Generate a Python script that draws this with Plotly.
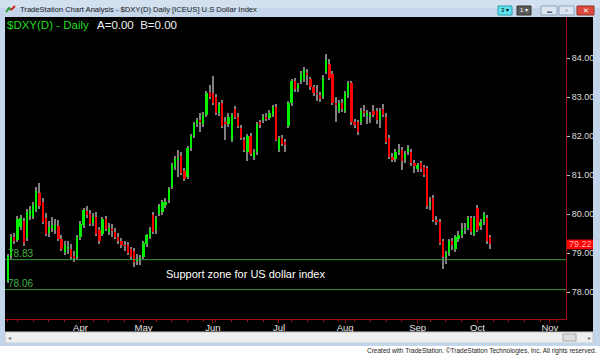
import plotly.graph_objects as go
import pandas as pd
import numpy as np

# ---------------- data ----------------
holidays = ["2012-04-06", "2012-05-28", "2012-07-04", "2012-09-03"]
all_days = [d for d in pd.bdate_range("2012-02-29", "2012-11-30")
            if d.strftime("%Y-%m-%d") not in holidays]

opens = [78.28, 78.92, 79.42, 79.33, 79.66, 79.82, 79.38, 79.95, 79.92, 80.10,
         80.55, 80.30, 79.90, 79.52, 79.64, 79.60, 79.70, 79.35, 79.02, 79.12,
         79.10, 78.93, 78.90, 79.40, 79.72, 80.08, 80.00, 79.78, 79.92, 79.60,
         79.50, 79.88, 79.55, 79.60, 79.55, 79.42, 79.30, 79.20, 79.20, 79.10,
         79.05, 78.80, 78.82, 78.90, 79.22, 79.42, 79.98, 79.58, 80.00, 80.05,
         80.22, 80.35, 80.70, 81.20, 81.40, 81.50, 81.10, 80.95, 81.70, 82.00,
         82.30, 82.40, 82.30, 82.55, 83.12, 83.10, 83.00, 82.60, 82.85, 82.35,
         82.30, 81.90, 82.70, 82.50, 82.20, 81.90, 81.60, 82.00, 81.45, 81.60,
         82.35, 82.40, 82.50, 82.45, 82.55, 82.75, 81.65, 81.95, 81.85, 82.25,
         82.85, 83.40, 83.20, 83.40, 83.45, 83.60, 83.45, 83.25, 83.10, 83.05,
         83.00, 83.65, 83.85, 83.60, 82.85, 82.65, 82.85, 82.65, 83.05, 83.35,
         82.35, 82.35, 82.35, 82.65, 82.52, 82.48, 82.65, 82.65, 82.40, 82.70,
         82.50, 81.95, 81.45, 81.40, 81.60, 81.65, 81.40, 81.60, 81.60, 81.30,
         81.15, 81.30, 81.20, 81.18, 80.25, 80.40, 79.85, 79.80, 79.30, 78.90,
         79.00, 79.30, 79.10, 79.35, 79.45, 79.60, 79.65, 79.90, 79.50, 80.15,
         79.70, 79.80, 79.90, 79.40]
highs = [78.98, 79.48, 79.52, 79.96, 79.98, 79.90, 80.12, 80.20, 80.32, 80.68,
         80.80, 80.42, 80.02, 79.82, 79.92, 79.86, 79.84, 79.46, 79.32, 79.30,
         79.22, 79.06, 79.46, 79.82, 80.16, 80.20, 80.10, 80.02, 80.04, 79.66,
         79.92, 79.96, 79.76, 79.74, 79.64, 79.52, 79.38, 79.30, 79.28, 79.16,
         79.12, 78.98, 78.95, 79.30, 79.50, 79.66, 80.06, 79.96, 80.26, 80.36,
         80.40, 80.70, 81.30, 81.48, 81.65, 81.58, 81.18, 81.74, 82.06, 82.36,
         82.46, 82.60, 82.62, 83.16, 83.30, 83.55, 83.08, 82.88, 82.92, 82.50,
         82.58, 82.60, 82.78, 82.58, 82.28, 81.98, 82.04, 82.08, 81.66, 82.36,
         82.42, 82.56, 82.58, 82.66, 82.80, 82.82, 82.00, 82.02, 81.92, 82.90,
         83.46, 83.48, 83.36, 83.66, 83.76, 83.72, 83.52, 83.32, 83.30, 83.12,
         83.56, 84.10, 83.98, 83.66, 83.00, 82.92, 82.94, 83.16, 83.42, 83.40,
         82.44, 82.42, 82.72, 82.80, 82.66, 82.62, 82.80, 82.72, 82.72, 82.82,
         82.58, 82.02, 81.56, 81.66, 81.80, 81.72, 81.62, 81.78, 81.66, 81.38,
         81.32, 81.36, 81.26, 81.24, 80.44, 80.48, 79.94, 79.86, 79.36, 79.06,
         79.36, 79.38, 79.46, 79.56, 79.78, 79.76, 79.96, 79.96, 79.96, 80.22,
         79.88, 80.06, 79.98, 79.46]
lows = [78.22, 78.85, 79.22, 79.28, 79.58, 79.18, 79.30, 79.85, 79.86, 80.04,
        80.12, 79.74, 79.44, 79.40, 79.54, 79.50, 79.30, 79.04, 78.94, 78.98,
        78.84, 78.78, 78.82, 79.34, 79.64, 79.90, 79.70, 79.70, 79.44, 79.24,
        79.44, 79.56, 79.46, 79.42, 79.36, 79.24, 79.12, 79.04, 78.96, 78.84,
        78.64, 78.68, 78.70, 78.84, 79.16, 79.36, 79.50, 79.50, 79.94, 79.98,
        80.16, 80.28, 80.64, 81.14, 80.95, 81.00, 80.84, 80.90, 81.62, 81.94,
        82.22, 82.10, 82.24, 82.50, 82.94, 82.80, 82.54, 82.52, 82.20, 81.90,
        82.24, 81.85, 82.44, 82.20, 81.90, 81.60, 81.35, 81.50, 81.38, 81.52,
        82.20, 82.34, 82.38, 82.40, 82.48, 81.86, 81.60, 81.74, 81.60, 82.20,
        82.78, 83.14, 83.12, 83.34, 83.38, 83.30, 83.18, 83.02, 82.90, 82.88,
        82.94, 83.60, 83.44, 82.80, 82.35, 82.58, 82.62, 82.58, 82.98, 82.28,
        82.20, 82.02, 82.28, 82.50, 82.30, 82.34, 82.48, 82.32, 82.20, 82.48,
        81.80, 81.40, 81.34, 81.34, 81.52, 81.12, 81.32, 81.52, 81.24, 81.06,
        81.08, 81.08, 80.94, 80.14, 80.10, 79.80, 79.72, 79.20, 78.60, 78.72,
        78.92, 79.08, 79.02, 79.28, 79.38, 79.50, 79.58, 79.46, 79.44, 79.54,
        79.60, 79.72, 79.24, 79.10]
closes = [78.92, 79.40, 79.30, 79.88, 79.90, 79.25, 80.05, 80.10, 80.22, 80.60,
          80.20, 79.80, 79.50, 79.66, 79.72, 79.73, 79.35, 79.10, 79.20, 79.15,
          78.90, 78.88, 79.40, 79.75, 80.10, 79.98, 79.75, 79.92, 79.50, 79.30,
          79.88, 79.62, 79.65, 79.58, 79.40, 79.30, 79.20, 79.19, 79.00, 78.90,
          78.78, 78.81, 78.88, 79.25, 79.45, 79.60, 79.55, 79.90, 80.20, 80.30,
          80.32, 80.65, 81.25, 81.40, 81.42, 81.05, 80.90, 81.70, 82.00, 82.30,
          82.40, 82.38, 82.55, 83.10, 83.00, 82.85, 82.60, 82.80, 82.25, 82.32,
          82.50, 82.55, 82.50, 82.25, 81.95, 81.65, 82.00, 81.55, 81.60, 82.30,
          82.30, 82.50, 82.45, 82.60, 82.75, 81.90, 81.95, 81.80, 81.78, 82.85,
          83.40, 83.20, 83.30, 83.60, 83.70, 83.58, 83.25, 83.10, 83.08, 82.95,
          83.50, 83.95, 83.50, 82.85, 82.82, 82.85, 82.70, 83.10, 83.35, 82.35,
          82.30, 82.10, 82.65, 82.58, 82.60, 82.55, 82.55, 82.40, 82.65, 82.55,
          81.85, 81.45, 81.40, 81.60, 81.65, 81.35, 81.55, 81.70, 81.30, 81.22,
          81.25, 81.15, 81.00, 80.20, 80.28, 79.85, 79.80, 79.25, 78.90, 79.00,
          79.30, 79.20, 79.40, 79.45, 79.60, 79.62, 79.90, 79.55, 79.90, 79.60,
          79.80, 80.00, 79.30, 79.22]

support_levels = [78.83, 78.06]
support_labels = ["78.83", "78.06"]
price_ticks = [78, 79, 80, 81, 82, 83, 84]
month_names = ["Apr", "May", "Jun", "Jul", "Aug", "Sep", "Oct", "Nov"]
last_price = closes[-1]

n = len(closes)
idx = np.arange(n)
o = np.array(opens); h = np.array(highs); l = np.array(lows); c = np.array(closes)

month_idx = []
for m in range(4, 12):
    for i, d in enumerate(all_days):
        if d.month == m:
            month_idx.append(i)
            break
week_idx = [i for i, d in enumerate(all_days)
            if i == 0 or d.isocalendar()[1] != all_days[i - 1].isocalendar()[1]]

# ---------------- geometry helpers (pixels -> paper) ----------------
L, R, T, B = 5, 566, 17, 319
def X(px): return (px - L) / (R - L)
def Y(py): return (B - py) / (B - T)

GREEN = "#00ee00"
RED = "#ff0000"
WICK = "#808080"

fig = go.Figure()
fig.add_trace(go.Bar(x=idx, y=h - l, base=l, width=0.36,
                     marker=dict(color=WICK, line=dict(width=0)),
                     hoverinfo="skip", showlegend=False))
body_col = [GREEN if cc >= oo else RED for oo, cc in zip(opens, closes)]
fig.add_trace(go.Bar(x=idx, y=np.abs(c - o), base=np.minimum(o, c), width=0.72,
                     marker=dict(color=body_col, line=dict(width=0)),
                     hoverinfo="skip", showlegend=False))

shapes = []
annotations = []

# black chart window
shapes.append(dict(type="rect", xref="paper", yref="paper", x0=X(5), x1=X(593),
                   y0=Y(332), y1=Y(17), fillcolor="black", line=dict(width=0), layer="below"))
# title bar
shapes.append(dict(type="rect", xref="paper", yref="paper", x0=X(0), x1=X(600),
                   y0=Y(17), y1=Y(0), fillcolor="#c5d6ea", line=dict(width=0)))
shapes.append(dict(type="rect", xref="paper", yref="paper", x0=X(0), x1=X(600),
                   y0=Y(8), y1=Y(0), fillcolor="#d2e0f0", line=dict(width=0)))
# side frames
for a, b in [(0, 5), (593, 600)]:
    shapes.append(dict(type="rect", xref="paper", yref="paper", x0=X(a), x1=X(b),
                       y0=Y(346), y1=Y(17), fillcolor="#c3d5ea", line=dict(width=0)))
# scrollbar
shapes.append(dict(type="rect", xref="paper", yref="paper", x0=X(5), x1=X(593),
                   y0=Y(343), y1=Y(332), fillcolor="#efefef", line=dict(color="#c8c8c8", width=1)))
shapes.append(dict(type="rect", xref="paper", yref="paper", x0=X(563), x1=X(576),
                   y0=Y(341), y1=Y(334), fillcolor="#dedede", line=dict(color="#a8a8a8", width=1)))
# bottom frame
shapes.append(dict(type="rect", xref="paper", yref="paper", x0=X(0), x1=X(600),
                   y0=Y(346), y1=Y(343), fillcolor="#c3d5ea", line=dict(width=0)))
# title bar buttons
buttons = [(498, 512, "#5fe3f2", "#2a9aa8"), (517, 531, "#5a5a5a", "#333333"),
           (541, 557, "#dbe6f2", "#8ea3ba"), (559, 574, "#dbe6f2", "#8ea3ba"),
           (577, 594, "#d9493d", "#9b3027")]
for a, b, fc, lc in buttons:
    shapes.append(dict(type="rect", xref="paper", yref="paper", x0=X(a), x1=X(b),
                       y0=Y(15), y1=Y(6), fillcolor=fc, line=dict(color=lc, width=1)))
# window icon
shapes.append(dict(type="path", xref="paper", yref="paper",
                   path=f"M {X(6)},{Y(12)} L {X(9)},{Y(8)} L {X(11)},{Y(10)}",
                   line=dict(color="#2a9a2a", width=2)))
shapes.append(dict(type="path", xref="paper", yref="paper",
                   path=f"M {X(11)},{Y(10)} L {X(15)},{Y(6)}",
                   line=dict(color="#d02020", width=2)))
# support lines
for lv in support_levels:
    shapes.append(dict(type="line", xref="paper", yref="y", x0=0, x1=1, y0=lv, y1=lv,
                       line=dict(color="#3a9a3a", width=1)))
# last price box
shapes.append(dict(type="rect", xref="paper", yref="y", x0=X(567), x1=X(593),
                   y0=last_price - 0.125, y1=last_price + 0.125,
                   fillcolor="#ff0000", line=dict(width=0)))

def txt(x, y, s, size, color, xanchor="left", yanchor="middle", xref="paper", yref="paper"):
    annotations.append(dict(x=x, y=y, xref=xref, yref=yref, text=s, showarrow=False,
                            xanchor=xanchor, yanchor=yanchor,
                            font=dict(size=size, color=color, family="Liberation Sans, Arial"),
                            borderpad=0))

txt(X(19), Y(9), "TradeStation Chart Analysis - $DXY(D) Daily [ICEUS] U.S Dollar Index", 7.6, "#1a1a1a")
txt(X(6), Y(25), "$DXY(D) - Daily", 11.5, "#1fdc1f")
txt(X(96), Y(25), "A=0.00  B=0.00", 11.5, "#f0f0f0")
txt(X(505), Y(10.5), "3 ▾", 6, "#000000", xanchor="center")
txt(X(524), Y(10.5), "1 ▾", 6, "#ffffff", xanchor="center")
txt(X(549), Y(11), "▬", 5, "#506070", xanchor="center")
txt(X(566.5), Y(10.5), "▫", 8, "#405060", xanchor="center")
txt(X(585.5), Y(10.5), "✕", 7, "#ffffff", xanchor="center")
for lv, lab in zip(support_levels, support_labels):
    txt(X(7), lv, lab, 10, "#45b045", yanchor="bottom", yref="y")
txt(X(165), 78.45, "Support zone for US dollar index", 11, "#ffffff", yref="y")
txt(X(580), last_price, f"{last_price:.2f}", 9, "#ffb4b4", xanchor="center", yref="y")
txt(X(9), Y(337.5), "◂", 6, "#707070", xanchor="center")
txt(X(589), Y(337.5), "▸", 6, "#707070", xanchor="center")
txt(X(598), Y(350.5), "Created with TradeStation. ©TradeStation Technologies, Inc. All rights reserved.",
    6.5, "#222222", xanchor="right")

fig.update_layout(
    width=600, height=355,
    margin=dict(l=L, r=600 - R, t=T, b=355 - B, pad=0),
    paper_bgcolor="white", plot_bgcolor="black",
    barmode="overlay", bargap=0,
    shapes=shapes, annotations=annotations, showlegend=False,
    xaxis=dict(range=[-0.95, 177.1], tickmode="array", tickvals=month_idx,
               ticktext=month_names, showgrid=False, zeroline=False,
               showline=True, linecolor="#a01010", linewidth=1,
               ticks="outside", ticklen=3, tickcolor="#a01010",
               ticklabelstandoff=-3,
               tickfont=dict(size=9.5, color="#e4e4e4", family="Liberation Sans, Arial"),
               minor=dict(tickvals=week_idx, ticks="outside", ticklen=2, tickcolor="#a01010"),
               fixedrange=True),
    yaxis=dict(range=[84 - (B - 58) / 39, 84 + (58 - T) / 39], side="right",
               tickmode="array", tickvals=price_ticks,
               ticktext=[f"{v:.2f}" for v in price_ticks],
               showgrid=False, zeroline=False,
               showline=True, linecolor="#a01010", linewidth=1,
               ticks="outside", ticklen=3, tickcolor="#c0c0c0",
               tickfont=dict(size=9, color="#dcdcdc", family="Liberation Sans, Arial"),
               fixedrange=True),
)

fig.write_html("out.html", config={"displayModeBar": False})
